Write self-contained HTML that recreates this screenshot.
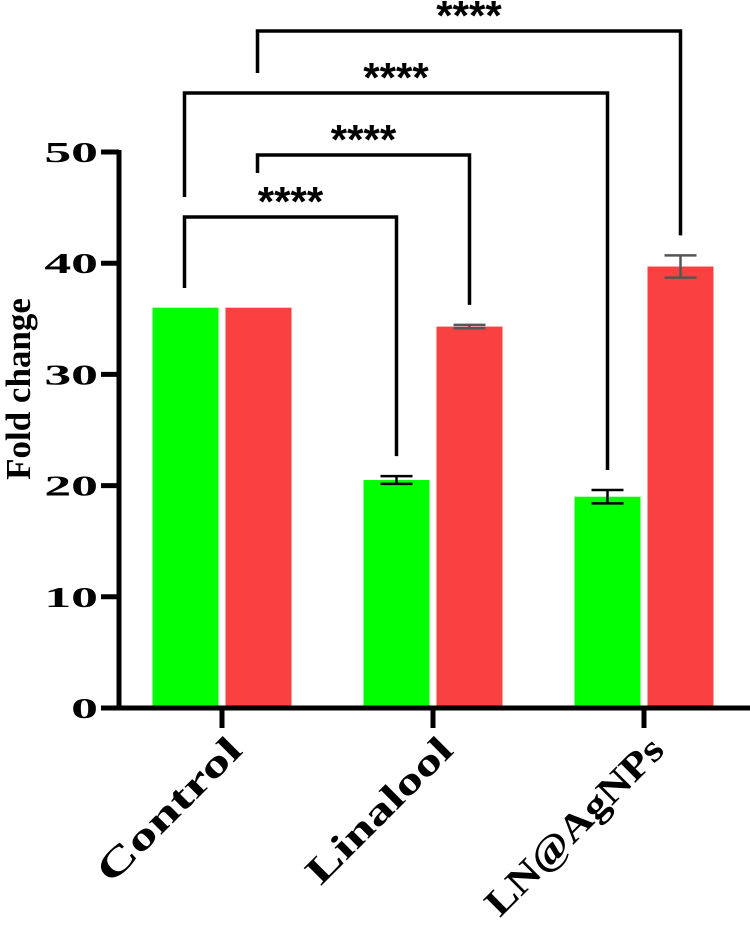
<!DOCTYPE html>
<html><head><meta charset="utf-8"><style>body{margin:0;background:#fff}svg{display:block}text.serif{font-family:"Liberation Serif",serif}</style></head>
<body>
<svg id="chart" width="750" height="925" xmlns="http://www.w3.org/2000/svg" font-family="Liberation Serif, serif"></svg>
<script>
const categories = ["Control","Linalool","LN@AgNPs"];
const greenValues = [36, 20.5, 19.0];
const greenErrors = [0, 0.35, 0.6];
const redValues = [36, 34.3, 39.7];
const redErrors = [0, 0.15, 1.0];
const yTicks = [0,10,20,30,40,50];
// comparisons: [fromCat, fromSeries(0 green,1 red), toCat, toSeries, level]
const comparisons = [[0,0,1,0,0],[0,1,1,1,1],[0,0,2,0,2],[0,1,2,1,3]];
const compLabels = ["****","****","****","****"];

const svg = document.getElementById('chart');
const NS = 'http://www.w3.org/2000/svg';
const y0 = 708, pxPerUnit = 11.12;
const y = v => y0 - v * pxPerUnit;
const groupX = i => 222 + i * 211;
const barX = (i, s) => groupX(i) + (s === 0 ? -36.5 : 36.5);
const barW = 66;
const labelLengths = [188, 190, 235];
function mk(tag, attrs, parent) {
  const e = document.createElementNS(NS, tag);
  for (const k in attrs) e.setAttribute(k, attrs[k]);
  (parent || svg).appendChild(e);
  return e;
}
// bars
[[greenValues, greenErrors, '#00ff00'], [redValues, redErrors, '#f94141']].forEach(([vals, errs, col], s) => {
  vals.forEach((v, i) => {
    const r = mk('rect', {x: barX(i, s) - barW/2, y: y(v), width: barW, height: y0 - y(v), fill: col});
    
    
    if (errs[i] > 0) {
      const cx = barX(i, s), c = s ? '#555' : '#000';
      const g = mk('g', {stroke: c, 'stroke-width': 2.5});
      
      
      mk('line', {x1: cx, x2: cx, y1: y(v + errs[i]), y2: y(v - errs[i])}, g);
      mk('line', {x1: cx - 16, x2: cx + 16, y1: y(v + errs[i]), y2: y(v + errs[i])}, g);
      mk('line', {x1: cx - 16, x2: cx + 16, y1: y(v - errs[i]), y2: y(v - errs[i])}, g);
    }
  });
});
// axes
const ax = mk('g', {stroke: '#000', 'stroke-width': 5});


mk('line', {x1: 119, x2: 119, y1: y(50) - 2, y2: y0 + 2}, ax);
mk('line', {x1: 117, x2: 750, y1: y0, y2: y0}, ax);
yTicks.forEach(t => {
  mk('line', {x1: 101, x2: 119, y1: y(t), y2: y(t)}, ax);
  const tx = mk('text', {class: 'serif', 'font-family': 'Liberation Serif, serif', x: 0, y: 0, 'text-anchor': 'end', 'font-size': 29, 'font-weight': 'bold', fill: '#000', transform: `translate(98 ${y(t) + 10}) scale(1.85 1)`});
  tx.textContent = t;
  
  
});
categories.forEach((c, i) => {
  mk('line', {x1: groupX(i), x2: groupX(i), y1: y0, y2: y0 + 20}, ax);
  const ox = groupX(i) + 22, oy = y0 + 44;
  const tx = mk('text', {class: 'serif', 'font-family': 'Liberation Serif, serif', x: 0, y: 0, 'text-anchor': 'end', 'font-size': 38, 'font-weight': 'bold', fill: '#000', transform: `translate(${ox} ${oy}) rotate(-45)`, textLength: labelLengths[i], lengthAdjust: 'spacingAndGlyphs'});
  tx.textContent = c;
  
  
});
const yt = mk('text', {class: 'serif', 'font-family': 'Liberation Serif, serif', x: 0, y: 0, 'text-anchor': 'middle', 'font-size': 35, 'font-weight': 'bold', fill: '#000', transform: 'translate(30 389) rotate(-90)'});
yt.textContent = 'Fold change';


// significance brackets
const levelY = [217, 155, 93, 31];
const leftBottom = [288, 173, 197, 73];
comparisons.forEach((cmp, k) => {
  const [c1, s1, c2, s2, lv] = cmp;
  const x1 = barX(c1, s1) - 1, x2 = barX(c2, s2);
  const vals2 = s2 ? redValues : greenValues, errs2 = s2 ? redErrors : greenErrors;
  const rb = y(vals2[c2] + errs2[c2]) - 20;
  const ty = levelY[lv];
  const t = mk('text', {x: (x1 + x2) / 2, y: ty - 1, 'text-anchor': 'middle', 'font-size': 42, 'font-weight': 'bold', 'font-family': 'Liberation Sans, sans-serif', fill: '#000'});
  t.textContent = compLabels[k];
  
  
  const p = mk('path', {d: `M${x1} ${leftBottom[lv]}V${ty}H${x2}V${rb}`, fill: 'none', stroke: '#000', 'stroke-width': 3.5});
  
  
});
</script>
</body></html>
